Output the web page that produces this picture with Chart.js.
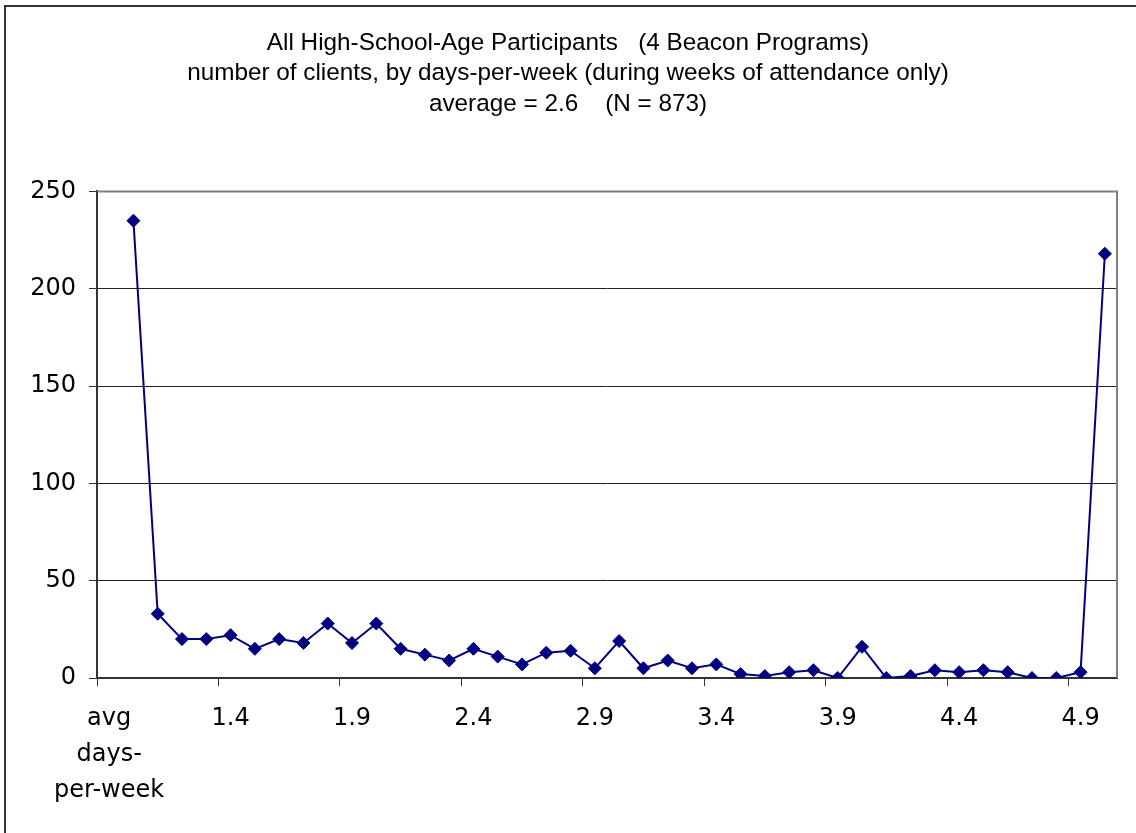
<!DOCTYPE html>
<html>
<head>
<meta charset="utf-8">
<script src="https://cdn.jsdelivr.net/npm/chart.js@4/dist/chart.umd.min.js"></script>
<style>
  html, body { margin: 0; padding: 0; background: #fff; }
  #wrap { width: 1136px; height: 833px; }
</style>
</head>
<body>
<div id="wrap"><canvas id="c" width="1136" height="833"></canvas></div>
<script>
// Categories: first slot is the axis caption, then days-per-week 1.0 .. 5.0
const categories = [
  ['avg', 'days-', 'per-week'],
  '1.0','1.1','1.2','1.3','1.4','1.5','1.6','1.7','1.8','1.9',
  '2.0','2.1','2.2','2.3','2.4','2.5','2.6','2.7','2.8','2.9',
  '3.0','3.1','3.2','3.3','3.4','3.5','3.6','3.7','3.8','3.9',
  '4.0','4.1','4.2','4.3','4.4','4.5','4.6','4.7','4.8','4.9','5.0'
];

// Number of clients at each days-per-week value (none for the caption slot)
const clients = [
  null,
  235, 33, 20, 20, 22, 15, 20, 18, 28, 18,
  28, 15, 12, 9, 15, 11, 7, 13, 14, 5,
  19, 5, 9, 5, 7, 2, 1, 3, 4, 0,
  16, 0, 1, 4, 3, 4, 3, 0, 0, 3, 218
];

const yTicks = [0, 50, 100, 150, 200, 250];

const titleLines = [
  'All High-School-Age Participants   (4 Beacon Programs)',
  'number of clients, by days-per-week (during weeks of attendance only)',
  'average = 2.6    (N = 873)'
];

const TITLE_FONT = 'Arial, "Liberation Sans", sans-serif';
const AXIS_FONT = '"DejaVu Sans", Arial, sans-serif';

// White page, outer frame and grey plot-area edges
const framePlugin = {
  id: 'frame',
  beforeDraw(chart) {
    const ctx = chart.ctx;
    ctx.save();
    ctx.fillStyle = '#ffffff';
    ctx.fillRect(0, 0, chart.width, chart.height);
    ctx.strokeStyle = '#333333';
    ctx.lineWidth = 2;
    ctx.strokeRect(5, 6, chart.width + 20, chart.height + 20);
    ctx.restore();
  },
  beforeDatasetsDraw(chart) {
    const a = chart.chartArea;
    const ctx = chart.ctx;
    ctx.save();
    ctx.strokeStyle = '#808080';
    ctx.lineWidth = 2;
    ctx.beginPath();
    ctx.moveTo(a.left, a.top);
    ctx.lineTo(a.right, a.top);
    ctx.lineTo(a.right, a.bottom);
    ctx.stroke();
    ctx.restore();
  }
};

new Chart(document.getElementById('c'), {
  type: 'line',
  data: {
    labels: categories,
    datasets: [{
      data: clients,
      borderColor: '#000080',
      backgroundColor: '#000080',
      borderWidth: 2,
      pointStyle: 'rectRot',
      pointRadius: 6.5,
      pointBorderWidth: 1,
      pointBackgroundColor: '#000080',
      pointBorderColor: '#000080',
      tension: 0,
      spanGaps: false
    }]
  },
  options: {
    responsive: false,
    animation: false,
    devicePixelRatio: 1,
    layout: { padding: { left: 19, right: 19, top: 0, bottom: 0 } },
    plugins: {
      legend: { display: false },
      tooltip: { enabled: false },
      title: {
        display: true,
        text: titleLines,
        color: '#000000',
        font: { family: TITLE_FONT, size: 24.3, weight: 'normal', lineHeight: 1.255 },
        padding: { top: 28, bottom: 72 }
      }
    },
    scales: {
      x: {
        type: 'category',
        offset: true,
        grid: {
          offset: true,
          drawOnChartArea: false,
          drawTicks: true,
          tickLength: 8,
          tickWidth: 1,
          tickColor: (ctx) => (ctx.index % 5 === 0 ? '#333333' : 'rgba(0,0,0,0)')
        },
        border: { display: true, color: '#333333', width: 2 },
        ticks: {
          autoSkip: false,
          maxRotation: 0,
          minRotation: 0,
          padding: 15,
          color: '#000000',
          font: { family: AXIS_FONT, size: 24, lineHeight: 1.5 },
          callback: function (value, index) {
            return index % 5 === 0 ? this.getLabelForValue(value) : '';
          }
        },
        afterFit(scale) { scale.height = 155; }
      },
      y: {
        min: 0,
        max: 250,
        afterBuildTicks(scale) { scale.ticks = yTicks.map(v => ({ value: v })); },
        grid: {
          color: (ctx) => (ctx.tick && ctx.tick.value === 250 ? 'rgba(0,0,0,0)' : '#222222'),
          lineWidth: 1,
          tickLength: 8,
          tickColor: '#333333'
        },
        border: { display: true, color: '#333333', width: 2 },
        ticks: {
          padding: 13,
          color: '#000000',
          font: { family: AXIS_FONT, size: 24 }
        },
        afterFit(scale) { scale.width = 78; }
      }
    }
  },
  plugins: [framePlugin]
});
</script>
</body>
</html>
